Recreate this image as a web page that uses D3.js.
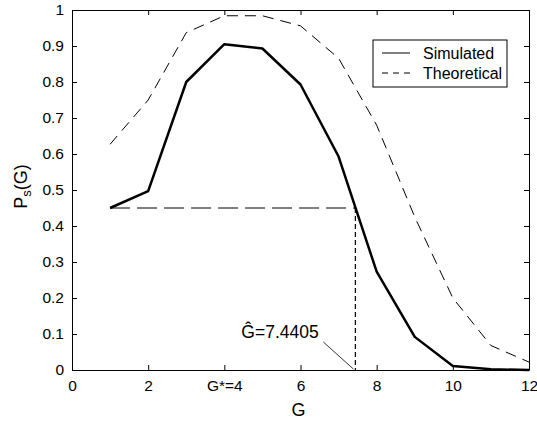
<!DOCTYPE html>
<html>
<head>
<meta charset="utf-8">
<script src="https://cdn.jsdelivr.net/npm/d3@7"></script>
<style>
  body { margin: 0; background: #fff; }
  svg { display: block; font-family: "Liberation Sans", Arial, sans-serif; }
</style>
</head>
<body>
<div id="chart"></div>
<script>
// data
const G = [1, 2, 3, 4, 5, 6, 7, 8, 9, 10, 11, 12];
const simulated = [0.45, 0.497, 0.80, 0.905, 0.893, 0.793, 0.593, 0.273, 0.092, 0.011, 0.002, 0.0];
const theoretical = [0.627, 0.75, 0.937, 0.984, 0.984, 0.956, 0.866, 0.68, 0.425, 0.2, 0.068, 0.022];
const xTicks = [0, 2, 4, 6, 8, 10, 12];
const xTickLabels = ["0", "2", "G*=4", "6", "8", "10", "12"];
const yTicks = [0, 0.1, 0.2, 0.3, 0.4, 0.5, 0.6, 0.7, 0.8, 0.9, 1];
const gHat = 7.4405;
const pLevel = 0.45;

const width = 537, height = 421;
const margin = {top: 10, right: 8, bottom: 51, left: 72};

const svg = d3.select("#chart").append("svg")
    .attr("width", width)
    .attr("height", height);

const x = d3.scaleLinear().domain([0, 12]).range([margin.left, width - margin.right]);
const y = d3.scaleLinear().domain([0, 1]).range([height - margin.bottom, margin.top]);

const tickLen = 5;

// axes, ticks pointing inward on all sides
svg.append("g")
    .attr("transform", `translate(0,${y(0)})`)
    .call(d3.axisBottom(x).tickValues(xTicks).tickSizeInner(-tickLen).tickSizeOuter(0)
        .tickPadding(10).tickFormat((d, i) => xTickLabels[i]));
svg.append("g")
    .attr("transform", `translate(0,${y(1)})`)
    .call(d3.axisTop(x).tickValues(xTicks).tickSizeInner(-tickLen).tickSizeOuter(0).tickFormat(""));
svg.append("g")
    .attr("transform", `translate(${x(0)},0)`)
    .call(d3.axisLeft(y).tickValues(yTicks).tickSizeInner(-tickLen).tickSizeOuter(0)
        .tickPadding(8).tickFormat(d3.format("")));
svg.append("g")
    .attr("transform", `translate(${x(12)},0)`)
    .call(d3.axisRight(y).tickValues(yTicks).tickSizeInner(-tickLen).tickSizeOuter(0).tickFormat(""));

svg.selectAll(".domain").attr("stroke", "#000").attr("stroke-width", 1);
svg.selectAll(".tick line").attr("stroke", "#000");
svg.selectAll(".tick text").attr("font-size", 15.5).attr("fill", "#000");

// axis labels
svg.append("text")
    .attr("x", x(6) - 2).attr("y", 416)
    .attr("text-anchor", "middle")
    .attr("font-size", 18)
    .text("G");

const yl = svg.append("text")
    .attr("transform", `translate(27,${y(0.51)}) rotate(-90)`)
    .attr("text-anchor", "middle")
    .attr("font-size", 18);
yl.append("tspan").text("P");
yl.append("tspan").attr("font-size", 13).attr("dy", 4).text("s");
yl.append("tspan").attr("dy", -4).text("(G)");

const line = d3.line().x((d, i) => x(G[i])).y(d => y(d));

svg.append("path")
    .datum(theoretical)
    .attr("fill", "none")
    .attr("stroke", "#000")
    .attr("stroke-width", 1)
    .attr("stroke-dasharray", "11,7")
    .attr("d", line);

svg.append("path")
    .datum(simulated)
    .attr("fill", "none")
    .attr("stroke", "#000")
    .attr("stroke-width", 2.5)
    .attr("stroke-linejoin", "round")
    .attr("d", line);

// level line at P = 0.45 and the drop to G-hat
svg.append("line")
    .attr("x1", x(G[0])).attr("x2", x(gHat))
    .attr("y1", y(pLevel)).attr("y2", y(pLevel))
    .attr("stroke", "#000").attr("stroke-width", 1)
    .attr("stroke-dasharray", "20,7");
svg.append("line")
    .attr("x1", x(gHat)).attr("x2", x(gHat))
    .attr("y1", y(pLevel)).attr("y2", y(0))
    .attr("stroke", "#000").attr("stroke-width", 1.2)
    .attr("stroke-dasharray", "5,3");

// annotation
svg.append("line")
    .attr("x1", x(gHat) - 32).attr("y1", y(0) - 28)
    .attr("x2", x(gHat) - 2).attr("y2", y(0) - 1)
    .attr("stroke", "#000").attr("stroke-width", 0.8);
svg.append("text")
    .attr("x", x(gHat) - 114).attr("y", y(0) - 32)
    .attr("font-size", 17.5)
    .text("\u011C=7.4405");

// legend
const lg = svg.append("g").attr("transform", "translate(373,40)");
lg.append("rect")
    .attr("width", 134).attr("height", 47)
    .attr("fill", "#fff").attr("stroke", "#000").attr("stroke-width", 1);
const entries = [["Simulated", null], ["Theoretical", "6,5"]];
entries.forEach((e, i) => {
    const yy = 13 + i * 20;
    lg.append("line")
        .attr("x1", 9).attr("x2", 37).attr("y1", yy).attr("y2", yy)
        .attr("stroke", "#000").attr("stroke-width", 1)
        .attr("stroke-dasharray", e[1]);
    lg.append("text")
        .attr("x", 50).attr("y", yy + 6)
        .attr("font-size", 16)
        .text(e[0]);
});
</script>
</body>
</html>
